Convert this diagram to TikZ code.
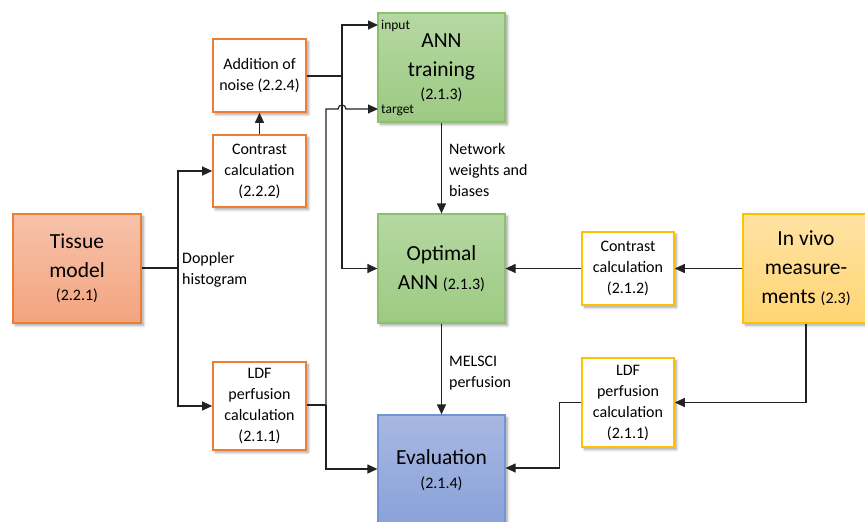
\documentclass[tikz,border=0pt]{standalone}
\usepackage{fontspec}
\setmainfont{Carlito}
\usetikzlibrary{arrows.meta,shadows.blur}
\newcommand\bigfs{\fontsize{21.5}{29}\selectfont}
\newcommand\midfs{\fontsize{16}{21}\selectfont}
\newcommand\tinyfs{\fontsize{13.5}{15}\selectfont}
\definecolor{orgB}{HTML}{ED7D31}
\definecolor{orgT}{HTML}{F7C2AA}
\definecolor{orgBt}{HTML}{F3A47F}
\definecolor{yelB}{HTML}{FFC000}
\definecolor{yelT}{HTML}{FFE3A3}
\definecolor{yelBt}{HTML}{FFD574}
\definecolor{grnB}{HTML}{8CC16C}
\definecolor{grnT}{HTML}{B6D8A3}
\definecolor{grnBt}{HTML}{9CCA82}
\definecolor{bluB}{HTML}{7393D2}
\definecolor{bluT}{HTML}{A7B8E1}
\definecolor{bluBt}{HTML}{8AA2DA}
\definecolor{lnC}{HTML}{222222}
\tikzset{
  box/.style={rectangle, inner sep=0pt, align=center, line width=1.6pt,
    blur shadow={shadow xshift=2.5pt, shadow yshift=-2.5pt, shadow blur steps=6, shadow blur radius=2.5pt, shadow opacity=35}},
  obox/.style={box, draw=orgB, fill=white, font=\midfs},
  ybox/.style={box, draw=yelB, fill=white, font=\midfs},
  tbox/.style={box, draw=orgB, top color=orgT, bottom color=orgBt, font=\bigfs, line width=1.2pt},
  vbox/.style={box, draw=yelB, top color=yelT, bottom color=yelBt, font=\bigfs, line width=1.2pt},
  gbox/.style={box, draw=grnB, top color=grnT, bottom color=grnBt, font=\bigfs, line width=1.2pt},
  bbox/.style={box, draw=bluB, top color=bluT, bottom color=bluBt, font=\bigfs, line width=1.2pt},
  conn/.style={draw=lnC, line width=1.2pt, -{Triangle[length=10pt,width=9pt]}},
  plain/.style={draw=lnC, line width=1.2pt},
  lbl/.style={font=\midfs, align=left, inner sep=0pt, anchor=north west},
  port/.style={font=\tinyfs, inner sep=0pt, anchor=west},
}
\begin{document}
\begin{tikzpicture}[x=1pt,y=-1pt]
\useasboundingbox (0,0) rectangle (865,522);
% boxes
\node[tbox, minimum width=128pt, minimum height=109pt] (tm) at (77,268.5) {Tissue\\model\\[-6pt]{\midfs (2.2.1)}};
\node[obox, minimum width=93pt, minimum height=73pt] (noise) at (259.5,75.5) {Addition of\\noise (2.2.4)};
\node[obox, minimum width=93pt, minimum height=72pt] (cc1) at (259.5,171) {Contrast\\calculation\\(2.2.2)};
\node[obox, minimum width=93pt, minimum height=88pt] (ldf1) at (259.5,406) {LDF\\perfusion\\calculation\\(2.1.1)};
\node[gbox, minimum width=127pt, minimum height=109pt] (train) at (441.5,67.5) {ANN\\training\\[-6pt]{\midfs (2.1.3)}};
\node[gbox, minimum width=127pt, minimum height=109pt] (opt) at (441.5,268.5) {Optimal\\ANN {\midfs (2.1.3)}};
\node[bbox, minimum width=127pt, minimum height=110pt] (ev) at (441.5,470) {Evaluation\\[-5pt]{\midfs (2.1.4)}};
\node[ybox, minimum width=92pt, minimum height=73pt] (cc2) at (628,268.5) {Contrast\\calculation\\(2.1.2)};
\node[ybox, minimum width=92pt, minimum height=89pt] (ldf2) at (628,402.5) {LDF\\perfusion\\calculation\\(2.1.1)};
\node[vbox, minimum width=126pt, minimum height=109pt] (vivo) at (806,268.5) {In vivo\\measure-\\ments {\midfs (2.3)}};
% ports
\node[port] (pin) at (381,26) {input};
\node[port] (ptg) at (381,110) {target};
% coordinates
\coordinate (a1) at (178,268);
\coordinate (jA) at (342,76);
\coordinate (jB) at (326,405);
% tissue model connectors
\draw[plain] (tm.east |- a1) -- (a1);
\draw[conn] (a1) |- (cc1.west);
\draw[conn] (a1) |- (ldf1.west);
\node[lbl] (dop) at (182,252) {Doppler\\histogram};
\draw[conn] (cc1.north) -- (noise.south);
% noise -> input & optimal
\draw[plain] (noise.east |- jA) -- (jA);
\draw[conn] (jA) |- (378,25);
\draw[conn] (jA) |- (opt.west);
% ldf1 -> target & evaluation
\draw[plain] (ldf1.east |- jB) -- (jB);
\draw[conn] (jB) |- (ev.west |- 0,469);
\draw[conn] (jB) -- (326,109) -- (338,109) .. controls (338,103.7) and (346,103.7) .. (346,109) -- (378,109);
% green chain
\draw[conn] (train.south) -- (opt.north) node[lbl, pos=0.22, xshift=7pt] (nw) {Network\\weights and\\biases};
\draw[conn] (opt.south) -- (ev.north) node[lbl, pos=0.35, xshift=7pt] (mel) {MELSCI\\perfusion};
% in vivo
\draw[conn] (vivo.west) -- (cc2.east);
\draw[conn] (cc2.west) -- (opt.east);
\draw[conn] (vivo.south) |- (ldf2.east);
\draw[conn] (ldf2.west) -- ++(-22,0) |- (ev.east |- 0,468);
\end{tikzpicture}
\end{document}
